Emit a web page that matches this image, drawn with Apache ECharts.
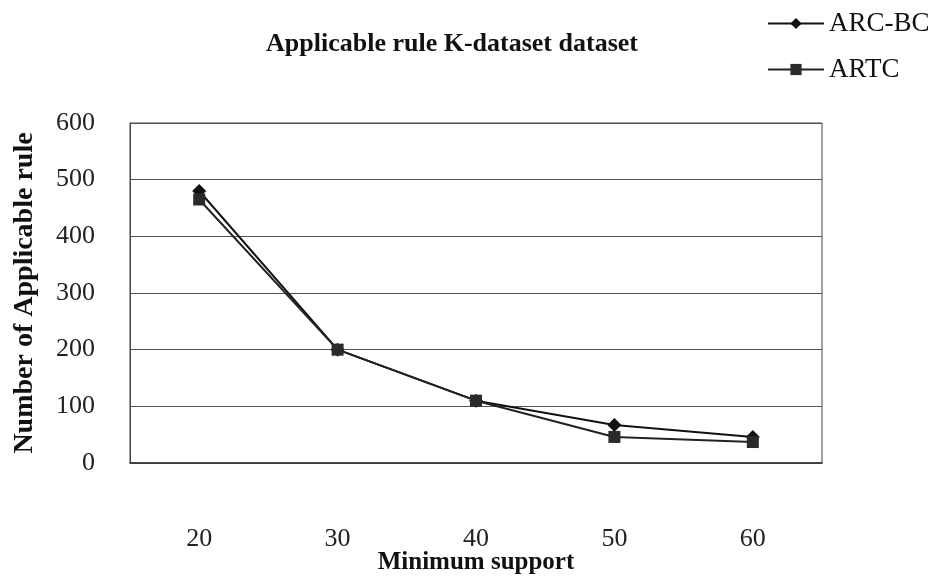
<!DOCTYPE html>
<html>
<head>
<meta charset="utf-8">
<script src="https://cdn.jsdelivr.net/npm/echarts@6/dist/echarts.min.js"></script>
<style>html,body{margin:0;padding:0;background:#fff;}#c{width:943px;height:581px;}</style>
</head>
<body>
<div id="c"></div>
<script>
var categories = ['20', '30', '40', '50', '60'];
var arcbc = [480, 200, 110, 67, 46];
var artc = [465, 200, 110, 46, 37];
var seriesNames = ['ARC-BC', 'ARTC'];
var titleText = 'Applicable rule K-dataset dataset';

var font = '"Liberation Serif", "Times New Roman", serif';
var chart = echarts.init(document.getElementById('c'));
chart.setOption({
  backgroundColor: '#fff',
  animation: false,
  title: {
    text: titleText,
    left: 447, top: 26, textAlign: 'center',
    textStyle: {fontFamily: font, fontSize: 26, fontWeight: 'bold', color: '#111'}
  },
  legend: {
    orient: 'vertical', left: 762, top: 5,
    itemWidth: 56, itemHeight: 14, itemGap: 19,
    textStyle: {fontFamily: font, fontSize: 27, color: '#111'},
    data: seriesNames
  },
  grid: {left: 130, right: 121, top: 123, bottom: 118, show: true, borderColor: '#444', borderWidth: 1,
         outerBoundsMode: 'none', containLabel: false},
  xAxis: {
    type: 'category', data: categories, boundaryGap: true,
    name: 'Minimum support', nameLocation: 'middle', nameGap: 87, nameMoveOverlap: false,
    nameTextStyle: {fontFamily: font, fontSize: 25, fontWeight: 'bold', color: '#111'},
    axisLine: {lineStyle: {color: '#333', width: 1.5}},
    axisTick: {show: false},
    axisLabel: {fontFamily: font, fontSize: 26, color: '#222', margin: 63}
  },
  yAxis: {
    type: 'value', min: 0, max: 600, interval: 100,
    name: 'Number of Applicable rule', nameLocation: 'middle', nameGap: 91,
    nameTextStyle: {fontFamily: font, fontSize: 28, fontWeight: 'bold', color: '#111'},
    axisLine: {show: true, lineStyle: {color: '#444'}},
    axisTick: {show: false},
    splitLine: {lineStyle: {color: '#555', width: 1}},
    axisLabel: {fontFamily: font, fontSize: 26, color: '#222', margin: 35}
  },
  series: [
    {name: seriesNames[0], type: 'line', data: arcbc, symbol: 'diamond', symbolSize: 14,
     lineStyle: {color: '#111', width: 2}, itemStyle: {color: '#111'}, z: 3},
    {name: seriesNames[1], type: 'line', data: artc, symbol: 'rect', symbolSize: 12,
     lineStyle: {color: '#222', width: 2}, itemStyle: {color: '#2a2a2a'}, z: 4}
  ]
});
</script>
</body>
</html>
